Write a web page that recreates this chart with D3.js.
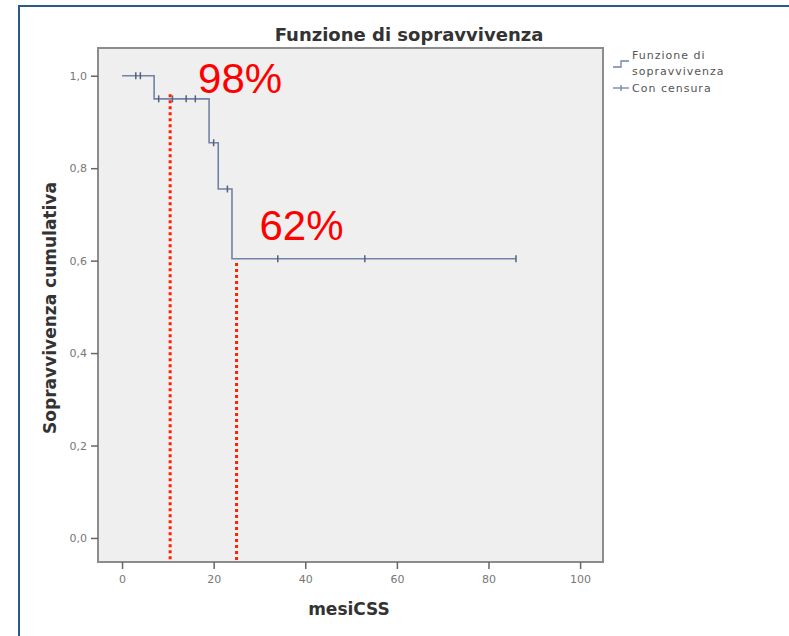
<!DOCTYPE html>
<html>
<head>
<meta charset="utf-8">
<script src="https://cdn.jsdelivr.net/npm/d3@7"></script>
<style>
  body { margin: 0; background: #fff; }
  svg { display: block; }
</style>
</head>
<body>
<svg id="chart" width="789" height="636"></svg>
<script>
// step curve: time (mesiCSS) and survival after each event
var eventTimes = [7, 19, 21, 24];
var eventSurv = [0.95, 0.855, 0.755, 0.604];
var lastTime = 86;
// censored observations
var censorTimes = [3, 4, 8, 11, 14, 16, 20, 23, 34, 53, 86];
// red reference lines and labels
var refTimes = [10.5, 25];
var refTops = [0.96, 0.595];
var refLabels = ["98%", "62%"];
var refLabelT = [16.6, 30];
var refLabelS = [0.962, 0.644];

var xTicks = [0, 20, 40, 60, 80, 100];
var yTicks = [0, 0.2, 0.4, 0.6, 0.8, 1.0];

var svg = d3.select("#chart");
var plot = { left: 98, top: 48, right: 603, bottom: 562 };

var x = d3.scaleLinear().domain([-5.25, 105]).range([plot.left, plot.right]);
var y = d3.scaleLinear().domain([-0.052, 1.06]).range([plot.bottom, plot.top]);

// outer blue frame (top and left)
svg.append("line").attr("x1", 18).attr("y1", 6).attr("x2", 789).attr("y2", 6)
	.attr("stroke", "#2b5a8a").attr("stroke-width", 2);
svg.append("line").attr("x1", 19).attr("y1", 5).attr("x2", 19).attr("y2", 636)
	.attr("stroke", "#2b5a8a").attr("stroke-width", 2);

// plot background
svg.append("rect")
	.attr("x", plot.left).attr("y", plot.top)
	.attr("width", plot.right - plot.left).attr("height", plot.bottom - plot.top)
	.attr("fill", "#efefef").attr("stroke", "#8c8c8c").attr("stroke-width", 2);

// axes
var xAxis = d3.axisBottom(x).tickValues(xTicks).tickSize(7).tickPadding(6)
	.tickFormat(d3.format("d"));
var gx = svg.append("g").attr("transform", "translate(0," + plot.bottom + ")").call(xAxis);

var yAxis = d3.axisLeft(y).tickValues(yTicks).tickSize(7).tickPadding(4)
	.tickFormat(function(d){ return d3.format(".1f")(d).replace(".", ","); });
var gy = svg.append("g").attr("transform", "translate(" + plot.left + ",0)").call(yAxis);

[gx, gy].forEach(function(g){
	g.select(".domain").remove();
	g.selectAll(".tick line").attr("stroke", "#666").attr("stroke-width", 1.5);
	g.selectAll(".tick text").attr("fill", "#777")
		.style("font-family", "DejaVu Sans, sans-serif").style("font-size", "11px");
});

// build the step path
var pts = [[0, 1]];
var cur = 1;
for (var i=0; i<eventTimes.length; i++) {
	pts.push([eventTimes[i], cur]);
	cur = eventSurv[i];
	pts.push([eventTimes[i], cur]);
}
pts.push([lastTime, cur]);

function survAt(t) {
	var s = 1;
	for (var i=0; i<eventTimes.length; i++) {
		if (t >= eventTimes[i]) s = eventSurv[i];
	}
	return s;
}

var lineColor = "#7282a8";
svg.append("path")
	.attr("d", d3.line().x(function(d){ return x(d[0]); }).y(function(d){ return y(d[1]); })(pts))
	.attr("fill", "none").attr("stroke", lineColor).attr("stroke-width", 1.6);

svg.selectAll(".censor").data(censorTimes).enter().append("line")
	.attr("class", "censor")
	.attr("x1", function(d){ return x(d); }).attr("x2", function(d){ return x(d); })
	.attr("y1", function(d){ return y(survAt(d)) - 3.5; })
	.attr("y2", function(d){ return y(survAt(d)) + 3.5; })
	.attr("stroke", "#56607e").attr("stroke-width", 1.5);

// red dotted reference lines
svg.selectAll(".ref").data(refTimes).enter().append("line")
	.attr("class", "ref")
	.attr("x1", function(d){ return x(d); }).attr("x2", function(d){ return x(d); })
	.attr("y1", function(d, i){ return y(refTops[i]); })
	.attr("y2", plot.bottom)
	.attr("stroke", "#ff2200").attr("stroke-width", 3).attr("stroke-dasharray", "3,3");

svg.selectAll(".reflabel").data(refLabels).enter().append("text")
	.attr("class", "reflabel")
	.attr("x", function(d, i){ return x(refLabelT[i]); })
	.attr("y", function(d, i){ return y(refLabelS[i]); })
	.attr("fill", "#ff0000")
	.style("font-family", "Liberation Sans, Arial, sans-serif").style("font-size", "42px")
	.text(function(d){ return d; });

// title and axis labels
var labelFont = "DejaVu Sans, sans-serif";
svg.append("text").attr("x", 409).attr("y", 41).attr("text-anchor", "middle")
	.attr("fill", "#333").style("font-family", labelFont).style("font-weight", "bold")
	.style("font-size", "18px").text("Funzione di sopravvivenza");

svg.append("text").attr("x", 349).attr("y", 615).attr("text-anchor", "middle")
	.attr("fill", "#333").style("font-family", labelFont).style("font-weight", "bold")
	.style("font-size", "17px").text("mesiCSS");

svg.append("text").attr("transform", "translate(56,308) rotate(-90)").attr("text-anchor", "middle")
	.attr("fill", "#333").style("font-family", labelFont).style("font-weight", "bold")
	.style("font-size", "17px").text("Sopravvivenza cumulativa");

// legend
var leg = svg.append("g").attr("transform", "translate(613,0)");
leg.append("path").attr("d", "M0,67 L8,67 L8,61 L16,61")
	.attr("fill", "none").attr("stroke", lineColor).attr("stroke-width", 1.3);
leg.append("line").attr("x1", 0).attr("x2", 16).attr("y1", 88).attr("y2", 88)
	.attr("stroke", lineColor).attr("stroke-width", 1.3);
leg.append("line").attr("x1", 8).attr("x2", 8).attr("y1", 85).attr("y2", 91)
	.attr("stroke", lineColor).attr("stroke-width", 1.3);
var legText = [["Funzione di", 59], ["sopravvivenza", 75], ["Con censura", 92]];
leg.selectAll(".lt").data(legText).enter().append("text")
	.attr("x", 19).attr("y", function(d){ return d[1]; })
	.attr("fill", "#555").style("font-family", labelFont).style("font-size", "11px")
	.style("letter-spacing", "1px")
	.text(function(d){ return d[0]; });
</script>
</body>
</html>
